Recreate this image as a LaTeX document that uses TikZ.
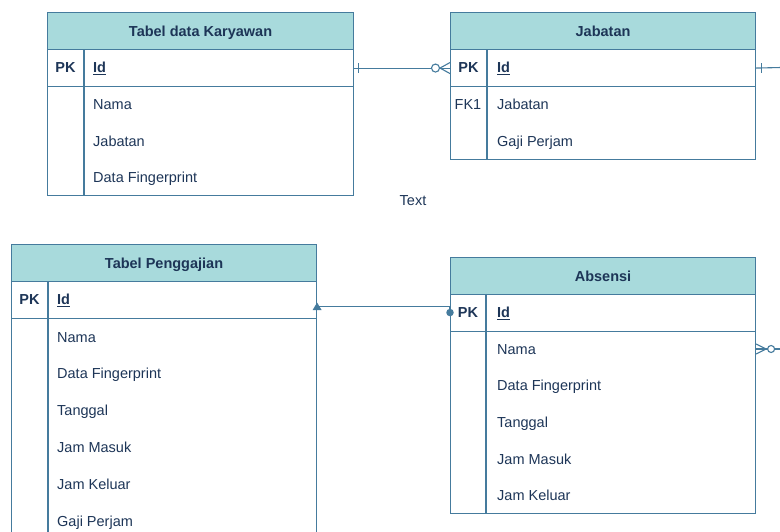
\documentclass[tikz,border=0pt]{standalone}
\usepackage{fontspec}
\setmainfont{Liberation Sans}
\usetikzlibrary{calc}
\definecolor{hdr}{HTML}{A8DADC}
\definecolor{edge}{HTML}{457B9D}
\definecolor{ink}{HTML}{1D3557}
\begin{document}
\begin{tikzpicture}[x=1pt,y=-1pt,
  every node/.style={font=\fontsize{14.5}{17}\selectfont, text=ink},
  box/.style={draw=edge, line width=1.1pt, anchor=north west, inner sep=0pt, rectangle},
  head/.style={box, fill=hdr},
  fld/.style={anchor=west, inner sep=0pt, text height=10.4pt, text depth=0pt},
  keyc/.style={anchor=center, inner sep=0pt, text height=10.4pt, text depth=0pt},
  ttl/.style={anchor=center, inner sep=0pt, text height=10.4pt, text depth=0pt, font=\fontsize{14.5}{17}\selectfont\bfseries},
  conn/.style={draw=edge, line width=1.1pt},
]
\clip (0,0) rectangle (780,531);
\useasboundingbox (0,0) rectangle (780,531);

% ---------- Tabel data Karyawan ----------
\node[box, minimum width=306pt, minimum height=183pt] (t1) at (47,12) {};
\node[head, minimum width=306pt, minimum height=37pt] (t1h) at (47,12) {};
\node[ttl] (t1t) at (t1h.center) {Tabel data Karyawan};
\node[box, minimum width=306pt, minimum height=37pt] (t1pk) at (47,49) {};
\draw[conn] ($(t1pk.north west)+(37,0)$) -- ($(t1.south west)+(37,0)$);
\node[keyc] (t1k) at (65.5,67.5) {\textbf{PK}};
\node[fld] (t1id) at (93,67.5) {\textbf{\underline{Id}}};
\node[fld] (t1f1) at (93,104) {Nama};
\node[fld] (t1f2) at (93,141) {Jabatan};
\node[fld] (t1f3) at (93,177.5) {Data Fingerprint};

% ---------- Jabatan ----------
\node[box, minimum width=305pt, minimum height=147pt] (t2) at (450,12) {};
\node[head, minimum width=305pt, minimum height=37pt] (t2h) at (450,12) {};
\node[ttl] (t2t) at (t2h.center) {Jabatan};
\node[box, minimum width=305pt, minimum height=37pt] (t2pk) at (450,49) {};
\draw[conn] ($(t2pk.north west)+(37,0)$) -- ($(t2.south west)+(37,0)$);
\node[keyc] (t2k) at (468.5,67.5) {\textbf{PK}};
\node[fld] (t2id) at (497,67.5) {\textbf{\underline{Id}}};
\node[keyc] (t2fk) at (468,104) {FK1};
\node[fld] (t2f1) at (497,104) {Jabatan};
\node[fld] (t2f2) at (497,141) {Gaji Perjam};

% ---------- Tabel Penggajian ----------
\node[box, minimum width=305pt, minimum height=300pt] (t3) at (11,244) {};
\node[head, minimum width=305pt, minimum height=37pt] (t3h) at (11,244) {};
\node[ttl] (t3t) at (t3h.center) {Tabel Penggajian};
\node[box, minimum width=305pt, minimum height=37pt] (t3pk) at (11,281) {};
\draw[conn] ($(t3pk.north west)+(37,0)$) -- ($(t3.south west)+(37,0)$);
\node[keyc] (t3k) at (29.5,299.5) {\textbf{PK}};
\node[fld] (t3id) at (57,299.5) {\textbf{\underline{Id}}};
\node[fld] (t3f1) at (57,337) {Nama};
\node[fld] (t3f2) at (57,373.5) {Data Fingerprint};
\node[fld] (t3f3) at (57,410) {Tanggal};
\node[fld] (t3f4) at (57,447) {Jam Masuk};
\node[fld] (t3f5) at (57,484) {Jam Keluar};
\node[fld] (t3f6) at (57,521) {Gaji Perjam};

% ---------- Absensi ----------
\node[box, minimum width=305pt, minimum height=256pt] (t4) at (450,257) {};
\node[head, minimum width=305pt, minimum height=36.5pt] (t4h) at (450,257) {};
\node[ttl] (t4t) at (t4h.center) {Absensi};
\node[box, minimum width=305pt, minimum height=37pt] (t4pk) at (450,293.5) {};
\draw[conn] ($(t4pk.north west)+(36,0)$) -- ($(t4.south west)+(36,0)$);
\node[keyc] (t4k) at (468,312) {\textbf{PK}};
\node[fld] (t4id) at (497,312) {\textbf{\underline{Id}}};
\node[fld] (t4f1) at (497,349) {Nama};
\node[fld] (t4f2) at (497,385.5) {Data Fingerprint};
\node[fld] (t4f3) at (497,422) {Tanggal};
\node[fld] (t4f4) at (497,459) {Jam Masuk};
\node[fld] (t4f5) at (497,495.5) {Jam Keluar};

% ---------- free label ----------
\node[inner sep=0pt] (lbl) at (413,201) {Text};

% ---------- connectors ----------
% Karyawan -> Jabatan (one -- zero-or-many)
\draw[conn] (t1pk.east) -- (t2pk.west);
\draw[conn] ($(t1pk.east)+(4,-5)$) -- ++(0,10);
\draw[conn] ($(t2pk.west)+(0,-5.5)$) -- ($(t2pk.west)+(-10,0)$) -- ($(t2pk.west)+(0,5.5)$);
\draw[conn, fill=white] ($(t2pk.west)+(-14.5,0)$) circle (4);

% Jabatan -> off right
\coordinate (r1) at (781,67.5);
\draw[conn] (t2pk.east) -- (r1);
\draw[conn] ($(t2pk.east)+(5,-5)$) -- ++(0,10);

% Absensi -> off right
\coordinate (a1) at (t4.east |- t4f1);
\coordinate (r2) at (781,349);
\draw[conn] (a1) -- (r2);
\draw[conn] ($(a1)+(0,-5)$) -- ($(a1)+(10,0)$) -- ($(a1)+(0,5)$);
\draw[conn, fill=white] ($(a1)+(15,0)$) circle (3.5);

% Absensi PK -> Tabel Penggajian
\node[circle, fill=edge, inner sep=0pt, minimum size=7.5pt] (d4) at (t4pk.west) {};
\coordinate (p3) at ($(t3pk.east)+(0,6.5)$);
\draw[conn] (d4.center) |- (p3);
\fill[edge] ($(p3)+(0,-4)$) -- ($(p3)+(4.5,3.5)$) -- ($(p3)+(-4.5,3.5)$) -- cycle;
\end{tikzpicture}
\end{document}
